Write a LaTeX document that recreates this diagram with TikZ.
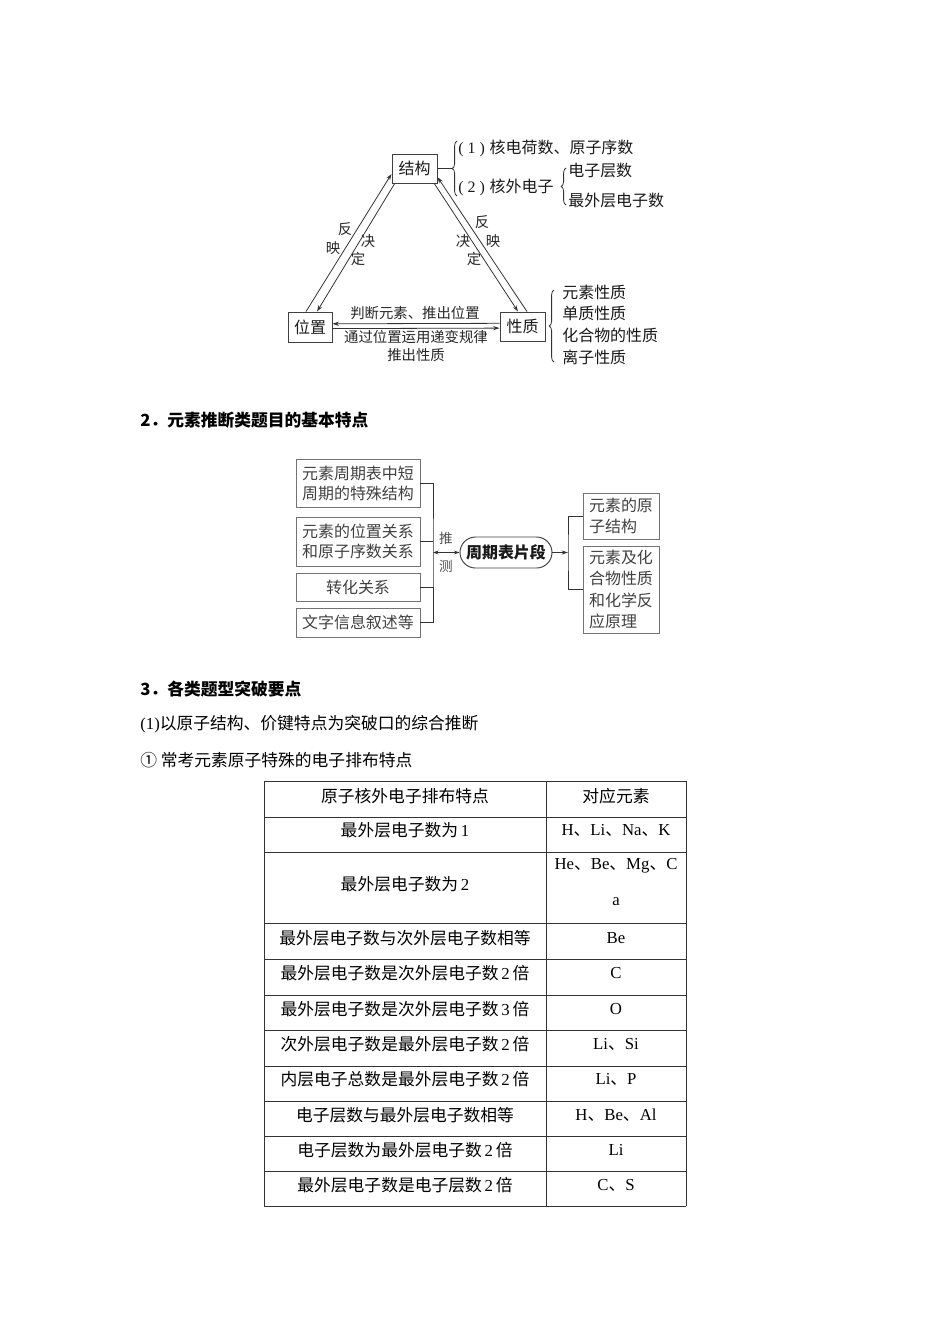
\documentclass[tikz,border=0pt]{standalone}
\usepackage{fontspec}
\setmainfont{Liberation Serif}
\newfontfamily\cjk{Noto Sans CJK SC}
\usetikzlibrary{arrows.meta,decorations.pathreplacing,shapes.misc,positioning}
\newdimen\pxu \pxu=0.6263pt
\newcommand\lt[1]{{\rmfamily #1}}
\newcommand\kh[1]{\lt{(\hspace{2.5pt}#1\hspace{2.5pt})}\hspace{3pt}}
\tikzset{
  wenzi/.style={font=\cjk\fontsize{10}{12.5}\selectfont, inner sep=0pt, text=black!90},
  xiaozi/.style={font=\cjk\fontsize{9}{11}\selectfont, inner sep=0pt, text=black!85},
  kuang/.style={wenzi, draw=black!75, line width=0.6pt},
  huikuang/.style={kuang, draw=black!55, text=black!75},
  xian/.style={line width=0.5pt, draw=black!80},
  jiantou/.style={xian, -{Stealth[length=4pt,width=2.6pt]}},
  kuohao/.style={decorate, decoration={brace, amplitude=3pt}, line width=0.5pt, draw=black!80},
  biaoti/.style={font=\cjk\bfseries\fontsize{10.5}{13}\selectfont, inner sep=0pt, anchor=west},
  zhengwen/.style={font=\cjk\fontsize{10.5}{13}\selectfont, inner sep=0pt, anchor=west},
  biaozi/.style={font=\cjk\fontsize{10.5}{13}\selectfont, inner sep=0pt},
  gexian/.style={line width=0.6pt, draw=black!80},
}
\begin{document}
\begin{tikzpicture}[x=\pxu, y=-\pxu]
\useasboundingbox (0,0) rectangle (950,1344);

% structure / position / property
\node[kuang, minimum width=45\pxu, minimum height=29\pxu] (jg) at (414.5,168.5) {结构};
\node[kuang, minimum width=44\pxu, minimum height=30\pxu] (wz) at (310,327) {位置};
\node[kuang, minimum width=45\pxu, minimum height=29\pxu] (xz) at (522.5,326.5) {性质};

\coordinate (k1) at (452,168.5);
\draw[xian] (jg.east) -- (k1);
\draw[kuohao] (457,196) -- (457,141);
\node[wenzi, anchor=west] (hd) at (458,148) {\kh{1}核电荷数、原子序数};
\node[wenzi, anchor=west] (hw) at (458,187) {\kh{2}核外电子};
\draw[kuohao] (566,205) -- (566,168);
\node[wenzi, anchor=west] (dzc) at (568,170) {电子层数};
\node[wenzi, anchor=west] (zwc) at (568,200) {最外层电子数};

\draw[kuohao] (554,362) -- (554,290);
\node[wenzi, anchor=west, align=left, font=\cjk\fontsize{10}{13.6}\selectfont] (xzlist) at (562,324.5)
  {元素性质\\单质性质\\化合物的性质\\离子性质};

% double lines between the boxes
\draw[jiantou] ([xshift=-2.5pt]wz.north) -- ([yshift=6pt]jg.south west);
\draw[jiantou] ([xshift=2pt]jg.south west) -- ([xshift=4.4pt]wz.north);
\draw[jiantou] ([xshift=2.8pt]xz.north) -- ([yshift=4pt]jg.south east);
\draw[jiantou] ([xshift=-2pt]jg.south east) -- ([xshift=-2.8pt]xz.north);
\draw[jiantou] ([yshift=2pt]xz.west) -- ([yshift=2pt]wz.east);
\draw[jiantou] ([yshift=-1pt]wz.east) -- ([yshift=-1pt]xz.west);

\node[xiaozi] (l1) at (345,229) {反};
\node[xiaozi] (l2) at (333,248) {映};
\node[xiaozi] (l3) at (368,241) {决};
\node[xiaozi] (l4) at (358,259) {定};
\node[xiaozi] (r1) at (482,222) {反};
\node[xiaozi] (r2) at (493,241) {映};
\node[xiaozi] (r3) at (463,241) {决};
\node[xiaozi] (r4) at (474,259) {定};
\node[xiaozi] (pd) at (415,313) {判断元素、推出位置};
\node[xiaozi, align=center, font=\cjk\fontsize{9}{11.3}\selectfont] (tg) at (416,346) {通过位置运用递变规律\\推出性质};

% section 2
\node[biaoti] (h2) at (140,420) {2．元素推断类题目的基本特点};

\node[huikuang, minimum width=124\pxu, minimum height=48\pxu, align=center] (b1) at (358,483) {元素周期表中短\\周期的特殊结构};
\node[huikuang, minimum width=124\pxu, minimum height=49\pxu, align=center] (b2) at (358,541.5) {元素的位置关系\\和原子序数关系};
\node[huikuang, minimum width=124\pxu, minimum height=28\pxu] (b3) at (358,587) {转化关系};
\node[huikuang, minimum width=124\pxu, minimum height=29\pxu] (b4) at (358,622.5) {文字信息叙述等};
\coordinate (zong) at (433,552.5);
\draw[xian] (b1.east) -| (zong) |- (b4.east);
\draw[xian] (b2.east) -- (b2.east -| zong);
\draw[xian] (b3.east) -- (b3.east -| zong);

\node[kuang, rounded rectangle, font=\cjk\bfseries\fontsize{10}{12}\selectfont, minimum width=92\pxu, minimum height=31\pxu] (pian) at (506,552.5) {周期表片段};
\draw[xian, {Stealth[length=3.5pt,width=2.4pt]}-{Stealth[length=3.5pt,width=2.4pt]}] (zong) -- (pian.west);
\node[xiaozi, font=\cjk\fontsize{8.5}{10}\selectfont, text=black!70] (tui) at (446,538) {推};
\node[xiaozi, font=\cjk\fontsize{8.5}{10}\selectfont, text=black!70] (ce) at (446,566) {测};

\node[huikuang, minimum width=76\pxu, minimum height=46\pxu, align=left, font=\cjk\fontsize{10}{13.3}\selectfont] (y1) at (621,516) {元素的原\\子结构};
\node[huikuang, minimum width=76\pxu, minimum height=87\pxu, align=left, font=\cjk\fontsize{10}{13.3}\selectfont] (y2) at (621,589.5) {元素及化\\合物性质\\和化学反\\应原理};
\coordinate (you) at (568,552.5);
\draw[jiantou] (pian.east) -- (you);
\draw[xian] (y1.west) -| (you) |- (y2.west);

% section 3
\node[biaoti] (h3) at (140,689) {3．各类题型突破要点};
\node[zhengwen] (p1) at (140,724) {\lt{(1)}以原子结构、价键特点为突破口的综合推断};
\node[zhengwen] (p2) at (140,760) {① 常考元素原子特殊的电子排布特点};

% table
\foreach \y in {781,817,852,923,959,995,1030,1066,1101,1136,1171,1206}
  \draw[gexian] (264,\y) -- (686,\y);
\foreach \x in {264,546,686}
  \draw[gexian] (\x,781) -- (\x,1206);

\node[biaozi] (c0) at (405,796) {原子核外电子排布特点};
\node[biaozi] (d0) at (616,796) {对应元素};
\node[biaozi] (c1) at (405,830) {最外层电子数为\,\lt{1}};
\node[biaozi] (d1) at (616,830) {\lt{H}、\lt{Li}、\lt{Na}、\lt{K}};
\node[biaozi] (c2) at (405,884) {最外层电子数为\,\lt{2}};
\node[biaozi] (d2) at (616,866) {\lt{He}、\lt{Be}、\lt{Mg}、\lt{C}};
\node[biaozi] (d2b) at (616,902) {\lt{a}};
\node[biaozi] (c3) at (405,938) {最外层电子数与次外层电子数相等};
\node[biaozi] (d3) at (616,938) {\lt{Be}};
\node[biaozi] (c4) at (405,973) {最外层电子数是次外层电子数\,\lt{2}\,倍};
\node[biaozi] (d4) at (616,973) {\lt{C}};
\node[biaozi] (c5) at (405,1009) {最外层电子数是次外层电子数\,\lt{3}\,倍};
\node[biaozi] (d5) at (616,1009) {\lt{O}};
\node[biaozi] (c6) at (405,1044) {次外层电子数是最外层电子数\,\lt{2}\,倍};
\node[biaozi] (d6) at (616,1044) {\lt{Li}、\lt{Si}};
\node[biaozi] (c7) at (405,1079) {内层电子总数是最外层电子数\,\lt{2}\,倍};
\node[biaozi] (d7) at (616,1079) {\lt{Li}、\lt{P}};
\node[biaozi] (c8) at (405,1115) {电子层数与最外层电子数相等};
\node[biaozi] (d8) at (616,1115) {\lt{H}、\lt{Be}、\lt{Al}};
\node[biaozi] (c9) at (405,1150) {电子层数为最外层电子数\,\lt{2}\,倍};
\node[biaozi] (d9) at (616,1150) {\lt{Li}};
\node[biaozi] (c10) at (405,1185) {最外层电子数是电子层数\,\lt{2}\,倍};
\node[biaozi] (d10) at (616,1185) {\lt{C}、\lt{S}};
\end{tikzpicture}
\end{document}
